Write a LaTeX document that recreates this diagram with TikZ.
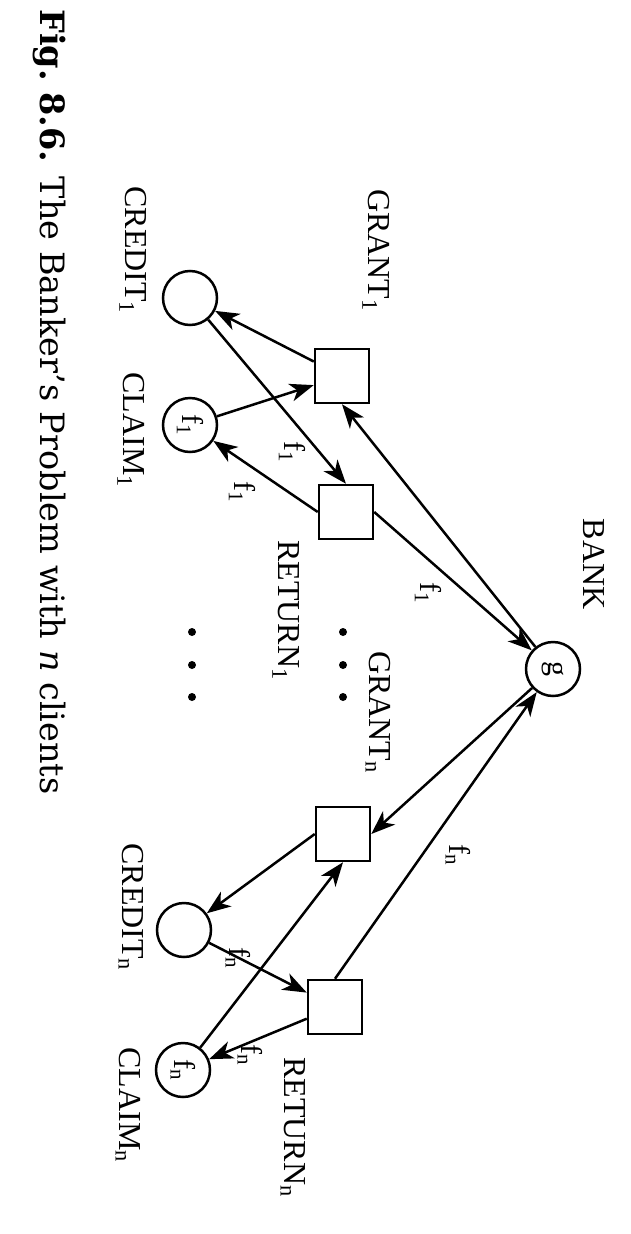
\documentclass[tikz,border=0pt]{standalone}
\usepackage{fontspec}
\setmainfont{Liberation Serif}
\newfontfamily\capfont{DejaVu Serif}
\usetikzlibrary{arrows.meta}
\begin{document}
\begin{tikzpicture}[x=1pt,y=-1pt,
  place/.style={circle,draw,line width=2.5pt,minimum size=54pt,inner sep=0pt},
  trans/.style={rectangle,draw,line width=2.5pt,minimum size=54pt,inner sep=0pt},
  lbl/.style={rotate=-90,font=\fontsize{32}{36}\selectfont,inner sep=0pt},
  elbl/.style={rotate=-90,font=\fontsize{30}{34}\selectfont,inner sep=0pt},
  arc/.style={line width=2.5pt,-{Stealth[length=24pt,width=18pt,inset=7pt]}},
  dotm/.style={circle,fill,inner sep=0pt,minimum size=8pt}]
\useasboundingbox (0,0) rectangle (630,1234);
% places and transitions
\node[place] (bank) at (553,669) {};
\node[place] (c1) at (190,298) {};
\node[place] (cl1) at (190,425) {};
\node[trans] (g1) at (342,376) {};
\node[trans] (r1) at (346,512) {};
\node[place] (cn) at (184,930) {};
\node[place] (cln) at (183,1070) {};
\node[trans] (gn) at (343,834) {};
\node[trans] (rn) at (335,1007) {};
% texts inside places
\node[elbl] at (bank) {g};
\node[elbl] at (cl1) {f\textsubscript{1}};
\node[elbl] at (cln) {f\textsubscript{n}};
% labels
\node[lbl] (lbank) at (594,564) {BANK};
\node[lbl] (lg1) at (376,250) {GRANT\textsubscript{1}};
\node[lbl] (lc1) at (133,250) {CREDIT\textsubscript{1}};
\node[lbl] (lcl1) at (131,430) {CLAIM\textsubscript{1}};
\node[lbl] (lr1) at (286,610) {RETURN\textsubscript{1}};
\node[lbl] (lgn) at (378,712) {GRANT\textsubscript{n}};
\node[lbl] (lcn) at (131,907) {CREDIT\textsubscript{n}};
\node[lbl] (lcln) at (128,1105) {CLAIM\textsubscript{n}};
\node[lbl] (lrn) at (293,1127) {RETURN\textsubscript{n}};
% dots
\foreach \yy [count=\i] in {632,665,697}{
  \node[dotm] (dl\i) at (192,\yy) {};
  \node[dotm] (dr\i) at (343,\yy) {};
}
% arcs
\draw[arc] (g1) -- (c1);
\draw[arc] (cl1) -- (g1);
\draw[arc] (c1) -- (r1.north);
\draw[arc] (r1.west) -- (cl1);
\draw[arc] (r1.east) -- (bank);
\draw[arc] (bank) -- (g1.south);
\draw[arc] (bank) -- (gn.east);
\draw[arc] (rn.north) -- (bank);
\draw[arc] (gn.west) -- (cn);
\draw[arc] (cln) -- (gn.south);
\draw[arc] (cn) -- (rn);
\draw[arc] (rn) -- (cln);
% arc labels
\node[elbl] (e1) at (292,452) {f\textsubscript{1}};
\node[elbl] (e2) at (242,492) {f\textsubscript{1}};
\node[elbl] (e3) at (428,593) {f\textsubscript{1}};
\node[elbl] (e4) at (458,855) {f\textsubscript{n}};
\node[elbl] (e5) at (238,958) {f\textsubscript{n}};
\node[elbl] (e6) at (250,1055) {f\textsubscript{n}};
% caption
\node[rotate=-90,inner sep=0pt,font=\capfont\fontsize{33.5}{40}\selectfont] (cap) at (50,402)
  {\textbf{Fig.~8.6.} The Banker’s Problem with \textit{n} clients};
\end{tikzpicture}
\end{document}
